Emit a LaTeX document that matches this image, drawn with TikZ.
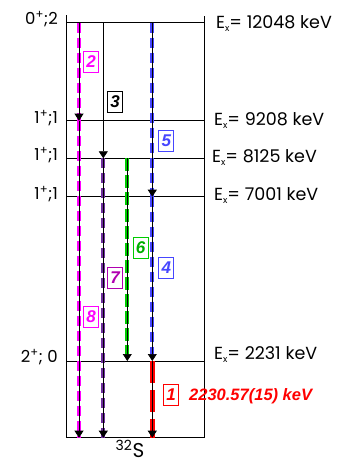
\documentclass[tikz,border=0pt]{standalone}
\usepackage{fontspec}
\setmainfont{Poppins}
\newfontfamily\tagfont{Liberation Sans}
\usetikzlibrary{arrows.meta}
\definecolor{smagenta}{RGB}{255,0,255}
\definecolor{spurple}{RGB}{112,48,160}
\definecolor{sviolet}{RGB}{176,0,176}
\definecolor{sgreen}{RGB}{0,204,0}
\definecolor{sgreentxt}{RGB}{0,176,0}
\definecolor{sblue}{RGB}{70,70,255}
\definecolor{sred}{RGB}{255,0,0}

\begin{document}
\begin{tikzpicture}[x=1pt, y=-1pt,
    level/.style={line width=1pt},
    gline/.style={line width=0.7pt, -{Triangle[length=7pt,width=9pt]}},
    gdash/.style={line width=4pt, dash pattern=on 10pt off 5pt},
    tag/.style={draw, line width=0.9pt, inner sep=0pt, minimum width=15pt, minimum height=21pt,
      font=\tagfont\bfseries\itshape\fontsize{17}{17}\selectfont},
    spin/.style={anchor=east, inner sep=0pt, font=\fontsize{16.5}{17}\selectfont},
    energy/.style={anchor=west, inner sep=0pt, font=\fontsize{17.5}{18}\selectfont}
  ]
    \useasboundingbox (0,0) rectangle (349,464);

    % Levels and columns
    \coordinate (g12048) at (66,22.7);
    \coordinate (g9208)  at (66,120.7);
    \coordinate (g8125)  at (66,158.3);
    \coordinate (g7001)  at (66,196.7);
    \coordinate (g2231)  at (66,361);
    \coordinate (g0)     at (66,437.7);
    \coordinate (cA) at (79,0);
    \coordinate (cB) at (103.3,0);
    \coordinate (cC) at (127.3,0);
    \coordinate (cD) at (152.3,0);

    % Frame and level lines
    \draw[level] (66,15) -- (g0) -- (204,437.7) -- (204,16);
    \foreach \lv in {g12048,g9208,g8125,g7001,g2231}
      \draw[level] (\lv) -- (\lv -| 204,0);

    % Coloured dashes
    \draw[gdash, smagenta] (cA |- g12048) -- (cA |- g9208);
    \draw[gdash, smagenta] (cA |- g9208) -- (cA |- g0);
    \draw[gdash, spurple]  (cB |- g8125) -- (cB |- g0);
    \draw[gdash, sgreen, dash pattern=on 13pt off 4pt] (cC |- g8125) -- (cC |- g2231);
    \draw[gdash, sblue]    (cD |- g12048) -- (cD |- g7001);
    \draw[gdash, sblue]    (cD |- g7001) -- (cD |- g2231);
    \draw[gdash, sred, line width=5pt, dash pattern=on 22pt off 7pt] (cD |- g2231) -- (cD |- g0);

    % Gamma transitions
    \draw[gline] (cA |- g12048) -- (cA |- g9208);
    \draw[gline] (cA |- g9208)  -- (cA |- g0);
    \draw[gline] (cB |- g12048) -- (cB |- g8125);
    \draw[gline] (cB |- g8125)  -- (cB |- g0);
    \draw[gline] (cC |- g8125)  -- (cC |- g2231);
    \draw[gline] (cD |- g12048) -- (cD |- g7001);
    \draw[gline] (cD |- g7001)  -- (cD |- g2231);
    \draw[gline] (cD |- g2231)  -- (cD |- g0);

    % Transition tags
    \node[tag, smagenta]             (t2) at (91,62)    {2};
    \node[tag, black]                (t3) at (115.2,102) {3};
    \node[tag, sblue]                (t5) at (166.3,141) {5};
    \node[tag, sgreen, text=sgreentxt] (t6) at (140.5,248) {6};
    \node[tag, sblue]                (t4) at (166.3,268) {4};
    \node[tag, sviolet]              (t7) at (115.2,278) {7};
    \node[tag, smagenta]             (t8) at (91,317)   {8};
    \node[tag, sred]                 (t1) at (171,394.5) {1};
    \node[anchor=west, inner sep=0pt, text=sred, font=\tagfont\bfseries\itshape\fontsize{16.5}{17}\selectfont]
      (e1) at (189,396) {2230.57(15) keV};

    % Spin and isospin
    \node[spin] (s12048) at (58,19)  {0\textsuperscript{+};2};
    \node[spin] (s9208)  at (58,118) {1\textsuperscript{+};1};
    \node[spin] (s8125)  at (58,155) {1\textsuperscript{+};1};
    \node[spin] (s7001)  at (58,194) {1\textsuperscript{+};1};
    \node[spin] (s2231)  at (58,357) {2\textsuperscript{+}; 0};

    % Excitation energies
    \node[energy] (x12048) at (216,24)  {E\raisebox{-3pt}{\fontsize{9}{9}\selectfont x}= 12048 keV};
    \node[energy] (x9208)  at (214,121) {E\raisebox{-3pt}{\fontsize{9}{9}\selectfont x}= 9208 keV};
    \node[energy] (x8125)  at (212,158) {E\raisebox{-3pt}{\fontsize{9}{9}\selectfont x}= 8125 keV};
    \node[energy] (x7001)  at (214,196) {E\raisebox{-3pt}{\fontsize{9}{9}\selectfont x}= 7001 keV};
    \node[energy] (x2231)  at (214,355) {E\raisebox{-3pt}{\fontsize{9}{9}\selectfont x}= 2231 keV};

    % Nucleus
    \node[inner sep=0pt, font=\fontsize{20}{20}\selectfont] (nuc) at (130,449) {\textsuperscript{32}S};
\end{tikzpicture}
\end{document}
